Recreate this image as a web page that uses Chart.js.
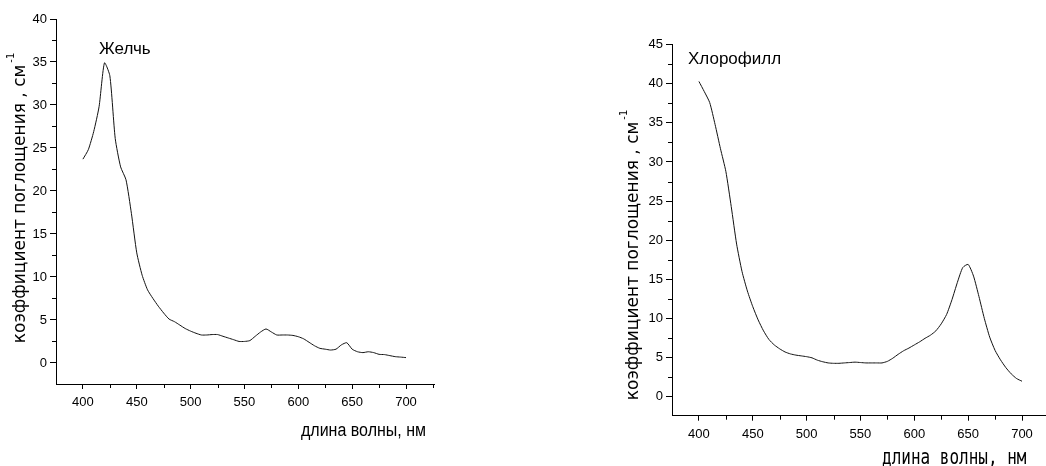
<!DOCTYPE html>
<html>
<head>
<meta charset="utf-8">
<script src="https://cdn.jsdelivr.net/npm/chart.js@4.4.1/dist/chart.umd.min.js"></script>
<style>
  html, body { margin: 0; padding: 0; background: #fff; overflow: hidden; width: 1046px; height: 466px; }
  .box { position: absolute; top: 0; }
</style>
</head>
<body>
<div class="box" style="left:0px"><canvas id="bileChart" width="520" height="466"></canvas></div>
<div class="box" style="left:600px"><canvas id="chloroChart" width="460" height="466"></canvas></div>
<script>
// длина волны, нм (шаг 5 нм)
const wavelengths = [400,405,410,415,420,425,430,435,440,445,450,455,460,465,470,475,480,485,490,495,
                     500,505,510,515,520,525,530,535,540,545,550,555,560,565,570,575,580,585,590,595,
                     600,605,610,615,620,625,630,635,640,645,650,655,660,665,670,675,680,685,690,695,700];

// Желчь
const bile = [23.7,24.8,26.9,29.8,34.9,33.4,26.1,22.8,21.3,17.4,12.8,10.2,8.5,7.5,6.6,5.8,5.1,4.8,4.4,4.0,
              3.7,3.45,3.25,3.25,3.3,3.3,3.1,2.9,2.7,2.5,2.5,2.6,3.1,3.6,3.95,3.6,3.25,3.25,3.25,3.2,
              3.05,2.8,2.4,2.0,1.7,1.6,1.5,1.6,2.1,2.35,1.6,1.3,1.2,1.3,1.2,1.0,0.97,0.85,0.73,0.68,0.62];

// Хлорофилл
const chlorophyll = [40.3,39.0,37.6,34.8,31.7,28.8,24.3,19.5,16.0,13.5,11.5,9.8,8.4,7.3,6.6,6.1,5.7,5.45,5.3,5.2,
                     5.1,4.95,4.65,4.45,4.3,4.25,4.25,4.3,4.35,4.4,4.35,4.3,4.3,4.3,4.3,4.5,4.9,5.4,5.85,6.2,
                     6.6,7.0,7.45,7.85,8.4,9.3,10.5,12.4,14.6,16.5,16.9,15.4,12.8,10.0,7.6,5.9,4.7,3.7,2.9,2.3,1.96];

const xTicks = [400,450,500,550,600,650,700];
const xMinor = [425,475,525,575,625,675,725];
const bileYTicks = [0,5,10,15,20,25,30,35,40];
const bileYMinor = [2.5,7.5,12.5,17.5,22.5,27.5,32.5,37.5];
const chloroYTicks = [0,5,10,15,20,25,30,35,40,45];
const chloroYMinor = [2.5,7.5,12.5,17.5,22.5,27.5,32.5,37.5,42.5];

const tickFont = { family: '"Liberation Sans Narrow", "Liberation Sans", Arial, sans-serif', size: 13 };

// малые деления и подписи
const decorPlugin = {
  id: 'decor',
  afterDraw(chart, args, o) {
    const ctx = chart.ctx;
    const sx = chart.scales.x, sy = chart.scales.y;
    ctx.save();
    ctx.strokeStyle = '#000';
    ctx.lineWidth = 1;
    ctx.beginPath();
    o.xMinor.forEach(v => {
      const px = Math.round(sx.getPixelForValue(v)) + 0.5;
      ctx.moveTo(px, sy.bottom);
      ctx.lineTo(px, sy.bottom + 4);
    });
    o.yMinor.forEach(v => {
      const py = Math.round(sy.getPixelForValue(v)) + 0.5;
      ctx.moveTo(sx.left, py);
      ctx.lineTo(sx.left - 4, py);
    });
    ctx.stroke();

    ctx.fillStyle = '#000';
    // название кривой
    ctx.font = o.labelFont;
    ctx.textAlign = 'left';
    ctx.textBaseline = 'alphabetic';
    ctx.fillText(o.label, o.labelX, o.labelY);

    // подпись оси X
    ctx.save();
    ctx.font = o.xTitleFont;
    ctx.textAlign = 'left';
    ctx.translate(o.xTitleX, o.xTitleY);
    ctx.scale(1, o.xTitleStretch);
    ctx.fillText('длина волны, нм', 0, 0);
    ctx.restore();

    // подпись оси Y с показателем степени
    const main = 'коэффициент поглощения , см';
    const sup = '-1';
    ctx.save();
    ctx.font = o.yTitleFont;
    const wMain = ctx.measureText(main).width;
    ctx.font = o.supFont;
    const wSup = ctx.measureText(sup).width;
    ctx.translate(o.yTitleX, o.yTitleY);
    ctx.rotate(-Math.PI / 2);
    const start = -(wMain + wSup + 2) / 2;
    ctx.font = o.yTitleFont;
    ctx.fillText(main, start, 0);
    ctx.font = o.supFont;
    ctx.fillText(sup, start + wMain + 2, -11);
    ctx.restore();

    ctx.restore();
  }
};

function makeChart(id, values, yMax, yTicks, yMinor, dims, decor) {
  const points = wavelengths.map((w, i) => ({ x: w, y: values[i] }));
  return new Chart(document.getElementById(id), {
    type: 'line',
    data: {
      datasets: [{
        data: points,
        borderColor: '#111',
        borderWidth: 1,
        pointRadius: 0,
        tension: 0.2,
        fill: false
      }]
    },
    options: {
      responsive: false,
      animation: false,
      layout: { padding: dims.padding },
      plugins: {
        legend: { display: false },
        tooltip: { enabled: false },
        decor: Object.assign({ xMinor: xMinor, yMinor: yMinor }, decor)
      },
      scales: {
        x: {
          type: 'linear',
          min: 375,
          max: 726,
          afterBuildTicks: s => { s.ticks = xTicks.map(v => ({ value: v })); },
          afterFit: s => { s.height = dims.xHeight; },
          grid: { drawOnChartArea: false, drawTicks: true, tickLength: 5, color: '#000' },
          border: { color: '#000', width: 1 },
          ticks: { color: '#000', font: tickFont, padding: 6, maxRotation: 0, autoSkip: false }
        },
        y: {
          type: 'linear',
          min: -2.45,
          max: yMax,
          afterBuildTicks: s => { s.ticks = yTicks.map(v => ({ value: v })); },
          afterFit: s => { s.width = dims.yWidth; },
          grid: { drawOnChartArea: false, drawTicks: true, tickLength: 6, color: '#000' },
          border: { color: '#000', width: 1 },
          ticks: { color: '#000', font: tickFont, padding: 3 }
        }
      }
    },
    plugins: [decorPlugin]
  });
}

makeChart('bileChart', bile, 40, bileYTicks, bileYMinor,
  { padding: { top: 19, right: 86, left: 0, bottom: 0 }, xHeight: 82, yWidth: 56 },
  {
    label: 'Желчь', labelX: 99, labelY: 54, labelFont: '17px "Liberation Sans", Arial, sans-serif',
    xTitleX: 301, xTitleY: 436, xTitleStretch: 1.15, xTitleFont: '16px "Liberation Sans", Arial, sans-serif',
    yTitleX: 25, yTitleY: 198, yTitleFont: '17px "DejaVu Sans", sans-serif', supFont: '10px "DejaVu Sans", sans-serif'
  });

makeChart('chloroChart', chlorophyll, 45, chloroYTicks, chloroYMinor,
  { padding: { top: 44.7, right: 10, left: 0, bottom: 0 }, xHeight: 50.3, yWidth: 72 },
  {
    label: 'Хлорофилл', labelX: 88, labelY: 64, labelFont: '17px "Liberation Sans", Arial, sans-serif',
    xTitleX: 282, xTitleY: 464, xTitleStretch: 1.3, xTitleFont: '16px "DejaVu Sans Mono", monospace',
    yTitleX: 38, yTitleY: 255, yTitleFont: '17px "DejaVu Sans", sans-serif', supFont: '10px "DejaVu Sans", sans-serif'
  });
</script>
</body>
</html>
